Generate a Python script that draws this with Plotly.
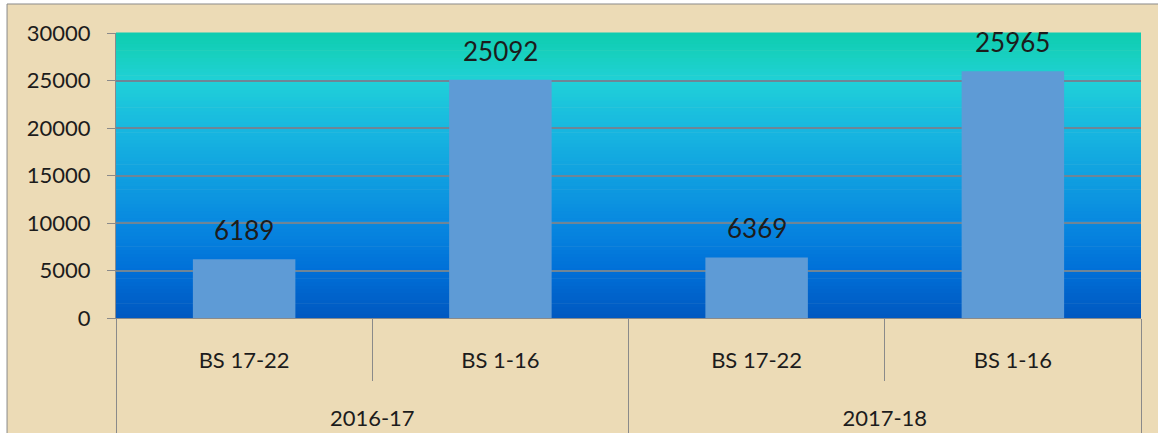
import plotly.graph_objects as go

years = ["2016-17", "2017-18"]
groups = ["BS 17-22", "BS 1-16", "BS 17-22", "BS 1-16"]
values = [6189, 25092, 6369, 25965]
y_ticks = [0, 5000, 10000, 15000, 20000, 25000, 30000]

FONT = "Lato"
TXT = "#1c1c1c"
AX = "#8A8A8A"

pos = list(range(len(groups)))
year_pos = [0.5, 2.5]
inner_bounds = [-0.5, 0.5, 1.5, 2.5, 3.5]
outer_bounds = [-0.5, 1.5, 3.5]

fig = go.Figure()
fig.add_trace(go.Bar(
    x=pos, y=values,
    marker=dict(color="#5E9BD6", line=dict(width=0)),
    width=0.4,
    hoverinfo="skip",
))
# invisible trace to activate the year axis
fig.add_trace(go.Scatter(x=year_pos, y=[0, 0], xaxis="x2", yaxis="y",
                         mode="markers", marker=dict(opacity=0),
                         hoverinfo="skip", showlegend=False))

# data labels
for p, v in zip(pos, values):
    fig.add_annotation(x=p, y=v, xref="x", yref="y", text=str(v),
                       showarrow=False, yanchor="bottom", yshift=11,
                       font=dict(family=FONT, size=26, color=TXT))

shapes = []
shapes.append(dict(type="rect", xref="paper", yref="paper",
                   x0=-0.1063, x1=1.06, y0=-0.45, y1=1.1018,
                   fillcolor="#ECDBB6", line=dict(color=AX, width=1),
                   layer="below"))

stops = [
    (0.00, (0, 88, 192)),
    (0.17, (0, 112, 216)),
    (0.33, (8, 136, 224)),
    (0.50, (16, 160, 224)),
    (0.67, (24, 184, 224)),
    (0.83, (32, 208, 216)),
    (0.92, (24, 208, 192)),
    (1.00, (14, 204, 176)),
]

def col(t):
    for (t0, c0), (t1, c1) in zip(stops[:-1], stops[1:]):
        if t0 <= t <= t1:
            f = (t - t0) / (t1 - t0) if t1 > t0 else 0
            return "rgb(%d,%d,%d)" % tuple(round(a + (b - a) * f) for a, b in zip(c0, c1))
    return "rgb(%d,%d,%d)" % stops[-1][1]

N = 80
for k in range(N):
    t0 = k / N
    t1 = (k + 1) / N
    shapes.append(dict(type="rect", xref="x domain", yref="y domain",
                       x0=0, x1=1, y0=t0, y1=t1 + 0.002,
                       fillcolor=col((t0 + t1) / 2), line=dict(width=0),
                       layer="below"))

fig.update_layout(
    width=1158, height=433,
    margin=dict(l=116, r=17, t=33, b=115, autoexpand=False),
    paper_bgcolor="white",
    plot_bgcolor="rgba(0,0,0,0)",
    shapes=shapes,
    showlegend=False,
    font=dict(family=FONT, size=22, color=TXT),
    xaxis=dict(
        range=[-0.5, 3.5], automargin=False,
        tickvals=pos, ticktext=groups,
        ticks="", ticklabelstandoff=23,
        minor=dict(tickvals=inner_bounds, ticks="outside", ticklen=62,
                   tickcolor=AX, tickwidth=1, showgrid=False),
        showline=True, linecolor=AX, linewidth=1,
        showgrid=False, zeroline=False,
        tickfont=dict(family=FONT, size=22, color=TXT),
    ),
    xaxis2=dict(
        overlaying="x", anchor="y", side="bottom", automargin=False,
        range=[-0.5, 3.5],
        tickvals=year_pos, ticktext=years,
        ticks="", ticklabelstandoff=85,
        minor=dict(tickvals=outer_bounds, ticks="outside", ticklen=120,
                   tickcolor=AX, tickwidth=1, showgrid=False),
        showline=False, showgrid=False, zeroline=False,
        tickfont=dict(family=FONT, size=22, color=TXT),
    ),
    yaxis=dict(
        range=[0, 30000], tickvals=y_ticks, ticktext=[str(v) for v in y_ticks],
        automargin=False,
        showgrid=True, gridcolor="#6F8596", gridwidth=1.5,
        showline=True, linecolor=AX, linewidth=1,
        ticks="outside", ticklen=8, tickcolor=AX,
        ticklabelstandoff=12,
        zeroline=False,
        tickfont=dict(family=FONT, size=22, color=TXT),
    ),
)

fig.write_html("out.html", config={"displayModeBar": False},
               post_script="document.body.style.margin='0';")
